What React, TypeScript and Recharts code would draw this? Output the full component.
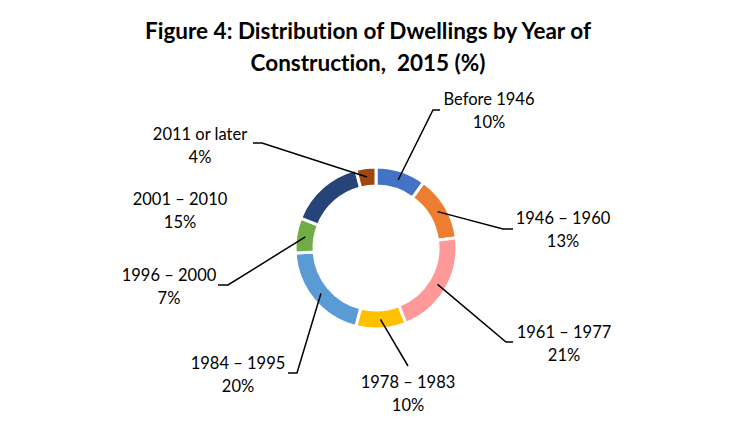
import { PieChart, Pie, Cell } from 'recharts';

const CATEGORIES = [
  'Before 1946',
  '1946 – 1960',
  '1961 – 1977',
  '1978 – 1983',
  '1984 – 1995',
  '1996 – 2000',
  '2001 – 2010',
  '2011 or later',
];
const SHARES = [10, 13, 21, 10, 20, 7, 15, 4];
const COLORS = ['#4472C4', '#ED7D31', '#FF9999', '#FFC000', '#5B9BD5', '#70AD47', '#264478', '#9E480E'];

// label text centre + leader line bend/end points (chart px)
const LABEL_LAYOUT = [
  { tx: 489, ty: 99, elbow: [433, 110], end: [440, 110] },
  { tx: 563, ty: 218, elbow: [503, 229], end: [513, 229] },
  { tx: 564, ty: 332, elbow: [506, 342], end: [513, 342] },
  { tx: 408, ty: 382, elbow: [408, 366], end: null },
  { tx: 238, ty: 363, elbow: [297, 373], end: [288, 373] },
  { tx: 169, ty: 275, elbow: [228, 285], end: [218, 285] },
  { tx: 180, ty: 199, elbow: null, end: null },
  { tx: 200, ty: 134, elbow: [262, 143], end: [253, 143] },
];

const FONT = 'Lato, "Noto Sans", sans-serif';
const RAD = Math.PI / 180;

const data = CATEGORIES.map((name, i) => ({ name, value: SHARES[i] }));

function renderLabel(props: any) {
  const { cx, cy, midAngle, innerRadius, outerRadius, index, name, value } = props;
  const lay = LABEL_LAYOUT[index];
  const r = (innerRadius + outerRadius) / 2;
  const sx = cx + r * Math.cos(-midAngle * RAD);
  const sy = cy + r * Math.sin(-midAngle * RAD);
  const pts: number[][] = [[sx, sy]];
  if (lay.elbow) pts.push(lay.elbow);
  if (lay.end) pts.push(lay.end);
  return (
    <g key={`lbl-${index}`}>
      {pts.length > 1 && (
        <polyline
          points={pts.map((p) => p.join(',')).join(' ')}
          fill="none"
          stroke="#000"
          strokeWidth={1.5}
        />
      )}
      <text
        x={lay.tx}
        y={lay.ty}
        textAnchor="middle"
        dominantBaseline="central"
        fontFamily={FONT}
        fontSize={16.5}
        fill="#000"
        style={{ fontVariantLigatures: 'none' }}
      >
        {name}
      </text>
      <text
        x={lay.tx}
        y={lay.ty + 23}
        textAnchor="middle"
        dominantBaseline="central"
        fontFamily={FONT}
        fontSize={16.5}
        fill="#000"
      >
        {value}%
      </text>
    </g>
  );
}

export default function App() {
  return (
    <div style={{ position: 'absolute', left: 0, top: 0, width: 729, height: 437, background: '#fff' }}>
      <div
        style={{
          position: 'absolute',
          left: 0,
          top: 15,
          width: 736,
          textAlign: 'center',
          fontFamily: FONT,
          fontWeight: 700,
          fontSize: 22.5,
          lineHeight: '32px',
          color: '#000',
          fontVariantLigatures: 'none',
        }}
      >
        Figure 4: Distribution of Dwellings by Year of
        <br />
        Construction,&nbsp; 2015 (%)
      </div>
      <PieChart
        width={729}
        height={437}
        margin={{ top: 0, right: 0, bottom: 0, left: 0 }}
        style={{ position: 'absolute', left: 0, top: 0 }}
      >
        <Pie
          data={data}
          dataKey="value"
          nameKey="name"
          cx={376}
          cy={248}
          innerRadius={62}
          outerRadius={81}
          startAngle={90}
          endAngle={-270}
          stroke="#fff"
          strokeWidth={3}
          label={renderLabel}
          labelLine={false}
          isAnimationActive={false}
        >
          {data.map((d, i) => (
            <Cell key={d.name} fill={COLORS[i]} />
          ))}
        </Pie>
      </PieChart>
    </div>
  );
}
